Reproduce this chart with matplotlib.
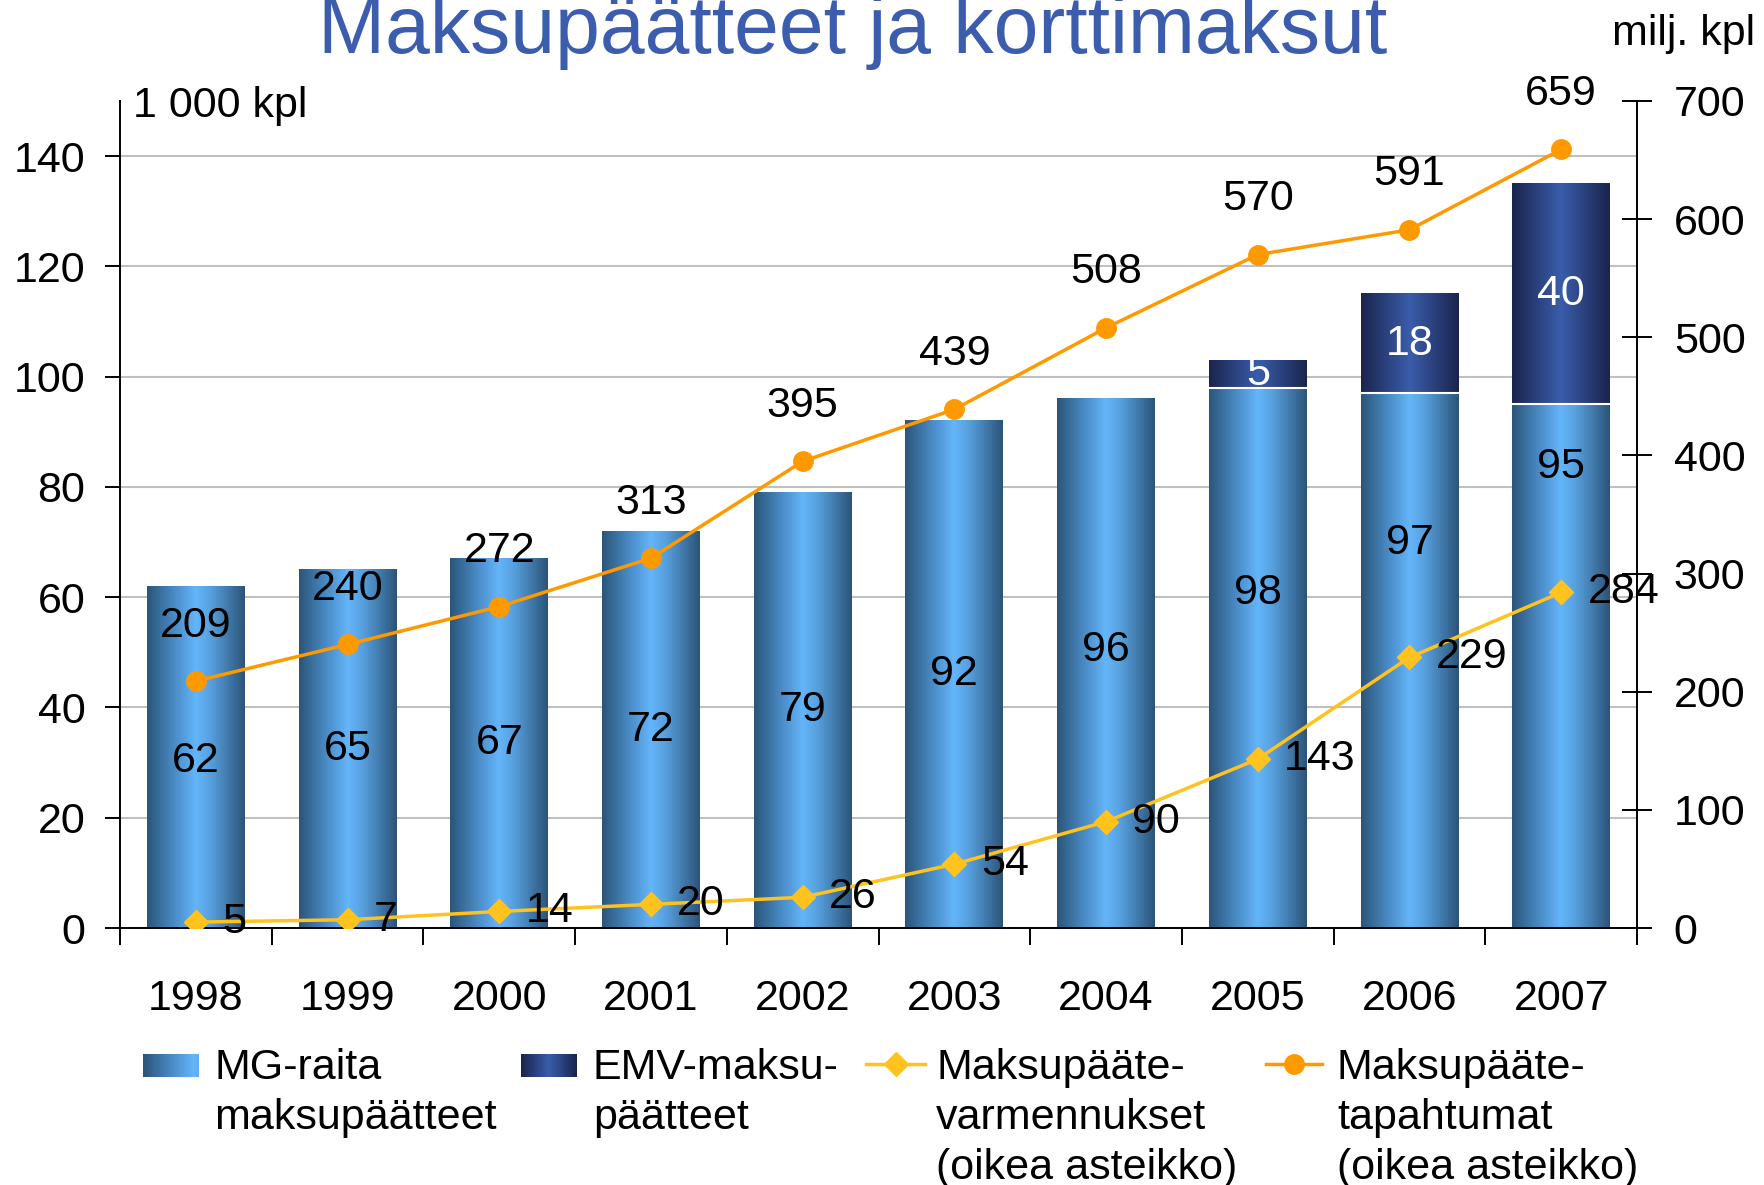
import numpy as np
import matplotlib.pyplot as plt
from matplotlib.colors import LinearSegmentedColormap
from matplotlib.lines import Line2D

plt.rcParams['font.family'] = ['Liberation Sans', 'DejaVu Sans']

years = ['1998', '1999', '2000', '2001', '2002', '2003', '2004', '2005', '2006', '2007']
mg = [62, 65, 67, 72, 79, 92, 96, 98, 97, 95]
emv = [0, 0, 0, 0, 0, 0, 0, 5, 18, 40]
varmennukset = [5, 7, 14, 20, 26, 54, 90, 143, 229, 284]
tapahtumat = [209, 240, 272, 313, 395, 439, 508, 570, 591, 659]

# where the MG labels sit, as a share of the bar height
mg_label_frac = [0.49, 0.5, 0.5, 0.5, 0.5, 0.5, 0.525, 0.62, 0.72, 0.88]

W, H = 1764, 1185
FS = 31
fig = plt.figure(figsize=(W / 100, H / 100), dpi=100)
ax = fig.add_axes([120 / W, 1 - 928 / H, 1517 / W, 827 / H])
ax2 = ax.twinx()

mg_cmap = LinearSegmentedColormap.from_list(
    'mg', [(0, '#2B5579'), (0.3, '#4C8FCB'), (0.5, '#64B5FA'), (0.65, '#57A0DE'), (1, '#2C5479')])
emv_cmap = LinearSegmentedColormap.from_list(
    'emv', [(0, '#1A244D'), (0.5, '#3A5DAB'), (1, '#1A244D')])
grad = np.linspace(0, 1, 256).reshape(1, -1)

x = np.arange(len(years))
bw = 0.645
mg_bars = ax.bar(x, mg, bw, color='none', edgecolor='none', zorder=3)
emv_bars = ax.bar(x, emv, bw, bottom=mg, color='none', edgecolor='none', zorder=3)


def shade(bars, cmap):
    for b in bars:
        if b.get_height() <= 0:
            continue
        x0, y0 = b.get_x(), b.get_y()
        ax.imshow(grad, cmap=cmap, aspect='auto', interpolation='bilinear',
                  extent=(x0, x0 + b.get_width(), y0, y0 + b.get_height()), zorder=2)


shade(mg_bars, mg_cmap)
shade(emv_bars, emv_cmap)

for b, v, f in zip(mg_bars, mg, mg_label_frac):
    ax.text(b.get_x() + b.get_width() / 2, v * f, str(v), ha='center', va='center',
            fontsize=FS, zorder=4)
for b, v in zip(emv_bars, emv):
    if v <= 0:
        continue
    ax.plot([b.get_x(), b.get_x() + b.get_width()], [b.get_y(), b.get_y()],
            color='white', lw=1.5, zorder=3)
    t = ax.text(b.get_x() + b.get_width() / 2, b.get_y() + v / 2, str(v), ha='center',
                va='center', fontsize=FS, color='white', zorder=4)
    t.set_clip_path(b)

# lines on the right scale
ax2.plot(x, varmennukset, color='#FFC21E', lw=2.5, marker='D', ms=12, zorder=3)
ax2.plot(x, tapahtumat, color='#FF9900', lw=2.5, marker='o', ms=14, zorder=3)
for xi, v in zip(x, tapahtumat):
    ax2.annotate(str(v), (xi, v), xytext=(0, 40), textcoords='offset points',
                 ha='center', va='center', fontsize=FS)
for xi, v in zip(x, varmennukset):
    ax2.annotate(str(v), (xi, v), xytext=(19, 0), textcoords='offset points',
                 ha='left', va='center', fontsize=FS)

ax.set_xlim(-0.5, 9.5)
ax.set_ylim(0, 150)
ax.set_yticks(range(0, 141, 20))
ax2.set_ylim(0, 700)
ax2.set_yticks(range(0, 701, 100))
ax.set_xticks(x)
ax.set_xticklabels(years)
ax.set_xticks(np.arange(-0.5, 10, 1), minor=True)
ax.tick_params(axis='x', which='major', length=0, pad=37, labelsize=FS)
ax.tick_params(axis='x', which='minor', length=12, width=1.4, direction='out')
ax.tick_params(axis='y', length=11, width=1.4, direction='out', pad=14, labelsize=FS)
ax2.tick_params(axis='y', length=21, width=1.4, direction='inout', pad=16, labelsize=FS)

ax.yaxis.grid(True, color='#C0C0C0', lw=1.5)
ax.set_axisbelow(True)
for s in ['top', 'right']:
    ax.spines[s].set_visible(False)
for s in ['top', 'left', 'bottom']:
    ax2.spines[s].set_visible(False)
for sp in [ax.spines['left'], ax.spines['bottom'], ax2.spines['right']]:
    sp.set_linewidth(1.4)

# titles and units
fig.text(853 / W, 1 - 53 / H, 'Maksupäätteet ja korttimaksut', ha='center', va='baseline',
         fontsize=58, color='#3C5DAE')
fig.text(1755 / W, 1 - 45 / H, 'milj. kpl', ha='right', va='baseline', fontsize=FS)
fig.text(133 / W, 1 - 117 / H, '1 000 kpl', ha='left', va='baseline', fontsize=FS)

# legend, drawn by hand
ly = 1 - 1064 / H
ty = 1 - 1048 / H


def legend_patch(x0, cmap, lo, hi):
    lax = fig.add_axes([x0 / W, 1 - 1077 / H, 56 / W, 23 / H])
    lax.imshow(np.linspace(lo, hi, 64).reshape(1, -1), cmap=cmap, aspect='auto',
               vmin=0, vmax=1, interpolation='bilinear')
    lax.axis('off')


def legend_line(x0, x1, color, marker, ms):
    fig.add_artist(Line2D([x0 / W, (x0 + x1) / 2 / W, x1 / W], [ly] * 3, color=color, lw=2.5,
                          marker=marker, ms=ms, markevery=[1], transform=fig.transFigure))


legend_patch(143, mg_cmap, 0.0, 0.55)
legend_patch(521, emv_cmap, 0.0, 1.0)
legend_line(866, 925, '#FFC21E', 'D', 12)
legend_line(1266, 1322, '#FF9900', 'o', 14)

labels = ['MG-raita\nmaksupäätteet', 'EMV-maksu-\npäätteet',
          'Maksupääte-\nvarmennukset\n(oikea asteikko)', 'Maksupääte-\ntapahtumat\n(oikea asteikko)']
for lx, lab in zip([214, 593, 936, 1337], labels):
    fig.text(lx / W, ty, lab, ha='left', va='top', fontsize=FS, linespacing=1.33)

fig.savefig('out.png', dpi=100)
